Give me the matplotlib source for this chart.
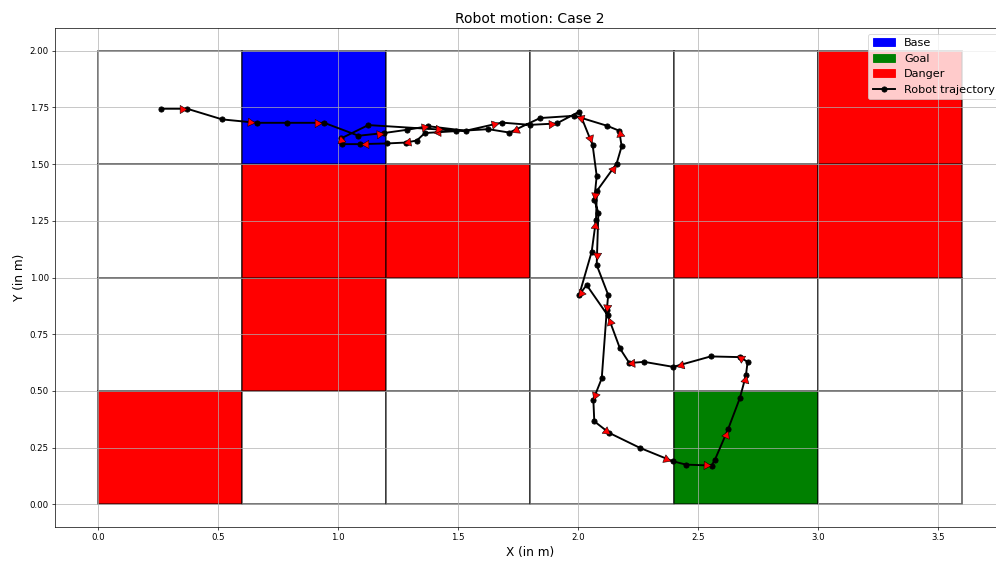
import matplotlib
matplotlib.use('Agg')
import matplotlib.pyplot as plt
import matplotlib.patches as mpatches
from matplotlib.lines import Line2D
import numpy as np

# grid world: 6 columns x 4 rows, rows listed from bottom to top
cell_w = 0.6
cell_h = 0.5
cell_colors = [
    ['red', 'white', 'white', 'white', 'green', 'white'],
    ['white', 'red', 'white', 'white', 'white', 'white'],
    ['white', 'red', 'red', 'white', 'red', 'red'],
    ['white', 'blue', 'white', 'white', 'white', 'red'],
]

# robot trajectory (m)
traj_x = [0.262, 0.371, 0.517, 0.662, 0.787, 0.942, 1.085, 1.192, 1.286, 1.376,
          1.532, 1.682, 1.800, 1.911, 2.005, 2.061, 2.078, 2.068, 2.085, 2.078,
          2.126, 2.120, 2.099, 2.064, 2.068, 2.130, 2.258, 2.395, 2.450, 2.557,
          2.571, 2.626, 2.675, 2.700, 2.707, 2.675, 2.553, 2.397, 2.276, 2.214,
          2.175, 2.124, 2.036, 2.005, 2.057, 2.075, 2.079, 2.161, 2.182, 2.172,
          2.121, 1.985, 1.842, 1.714, 1.626, 1.362, 1.328, 1.283, 1.203, 1.093,
          1.017, 1.012, 1.126, 1.490]
traj_y = [1.744, 1.744, 1.697, 1.682, 1.682, 1.682, 1.625, 1.637, 1.651, 1.667,
          1.647, 1.683, 1.673, 1.679, 1.731, 1.584, 1.448, 1.342, 1.286, 1.055,
          0.923, 0.855, 0.555, 0.462, 0.366, 0.315, 0.249, 0.190, 0.175, 0.171,
          0.197, 0.332, 0.469, 0.568, 0.628, 0.649, 0.652, 0.606, 0.628, 0.623,
          0.687, 0.833, 0.967, 0.923, 1.113, 1.253, 1.382, 1.502, 1.578, 1.647,
          1.669, 1.713, 1.703, 1.639, 1.654, 1.637, 1.604, 1.595, 1.591, 1.588,
          1.588, 1.613, 1.672, 1.648]

dpi = 62.25
fig = plt.figure(figsize=(996 / dpi, 561 / dpi), dpi=dpi)
ax = fig.add_axes([55 / 996, 34 / 561, 950 / 996, 499 / 561])

for r, row in enumerate(cell_colors):
    for c, col in enumerate(row):
        rect = mpatches.Rectangle((c * cell_w, r * cell_h), cell_w, cell_h,
                                  facecolor=col, edgecolor=(0, 0, 0, 0.6),
                                  linewidth=2)
        ax.add_patch(rect)

ax.set_xlim(-0.18, 3.78)
ax.set_ylim(-0.1, 2.1)

ax.plot(traj_x, traj_y, color='black', linewidth=2.2, marker='o',
        markersize=6, zorder=3)

# direction arrows on every other segment
fig.canvas.draw()
pts = ax.transData.transform(np.column_stack([traj_x, traj_y]))
for i in range(0, len(traj_x) - 1, 2):
    x = traj_x[i] + 0.8 * (traj_x[i + 1] - traj_x[i])
    y = traj_y[i] + 0.8 * (traj_y[i + 1] - traj_y[i])
    d = pts[i + 1] - pts[i]
    ang = np.degrees(np.arctan2(d[1], d[0]))
    ax.plot(x, y, marker=(3, 0, ang - 90), markersize=11, color='red',
            markeredgecolor='black', markeredgewidth=0.6, zorder=4,
            linestyle='none')

ax.grid()
ax.tick_params(labelsize=10)
ax.set_title('Robot motion: Case 2', fontsize=16)
ax.set_xlabel('X (in m)', fontsize=14)
ax.set_ylabel('Y (in m)', fontsize=14)

handles = [mpatches.Patch(color='blue', label='Base'),
           mpatches.Patch(color='green', label='Goal'),
           mpatches.Patch(color='red', label='Danger'),
           Line2D([0], [0], color='black', marker='o', linewidth=2.2,
                  markersize=6, label='Robot trajectory')]
ax.legend(handles=handles, loc='upper right', fontsize=13)

fig.savefig('out.png', dpi=dpi)
